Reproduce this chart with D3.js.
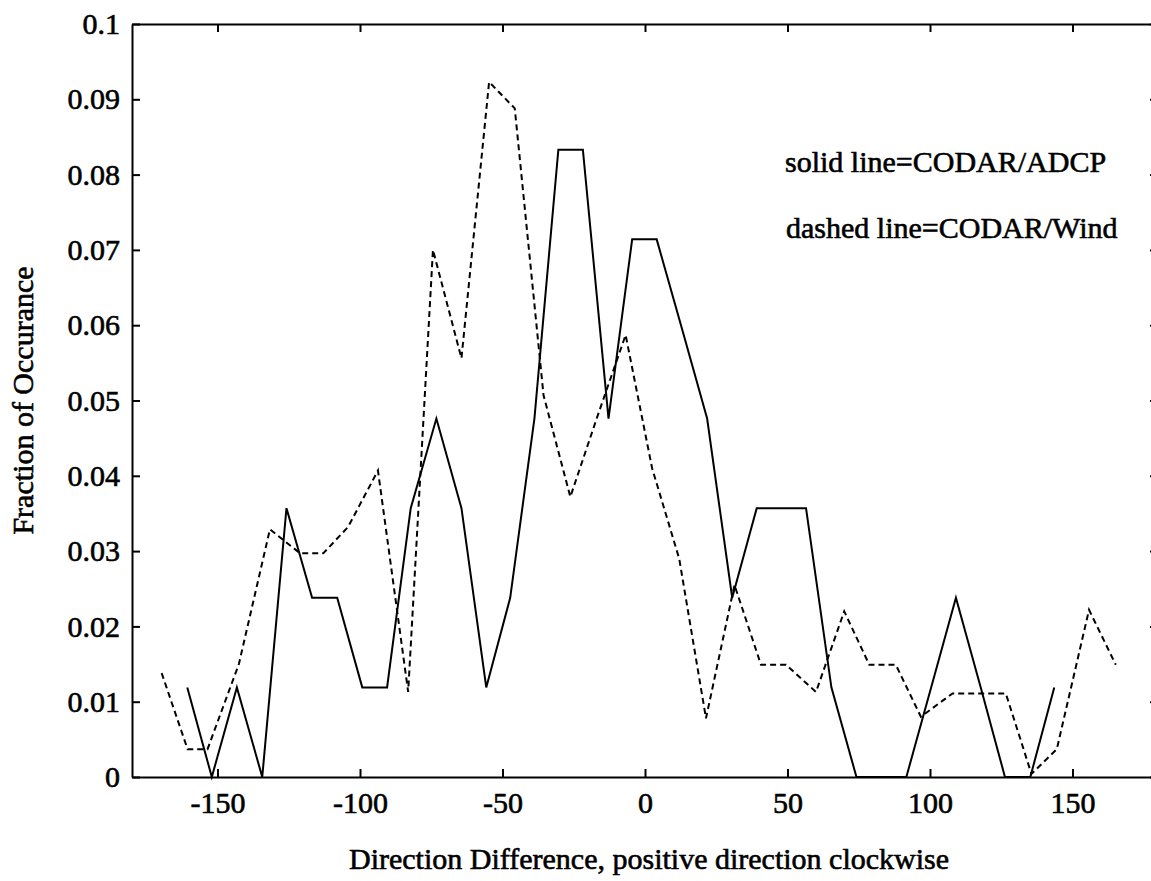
<!DOCTYPE html>
<html>
<head>
<meta charset="utf-8">
<script src="https://cdn.jsdelivr.net/npm/d3@7/dist/d3.min.js"></script>
<style>
  html, body { margin: 0; padding: 0; background: #fff; }
  svg { display: block; }
  text { font-family: "Liberation Serif", "Times New Roman", serif; fill: #000; stroke: #000; stroke-width: 0.6px; }
</style>
</head>
<body>
<svg id="chart" width="1151" height="881"></svg>
<script>
// ---- data ----
const xTickValues = [-150, -100, -50, 0, 50, 100, 150];
const yTickValues = [0, 0.01, 0.02, 0.03, 0.04, 0.05, 0.06, 0.07, 0.08, 0.09, 0.1];
const yTickLabels = ["0", "0.01", "0.02", "0.03", "0.04", "0.05", "0.06", "0.07", "0.08", "0.09", "0.1"];

// solid line = CODAR/ADCP
const solidX = [-160.6, -152, -143.2, -134.3, -125.8, -116.8, -108, -99.2, -90.5, -82.2, -73.2, -64.4, -55.7, -47.3, -38.8, -30.4, -21.8, -12.8, -4.5, 4.1, 13, 21.8, 30.6, 39.2, 48, 56.5, 65.4, 74.2, 83, 91.7, 100.4, 109.1, 117.8, 126.3, 135.2, 143.6];
const solidY = [0.0119, 0, 0.0119, 0, 0.0357, 0.0238, 0.0238, 0.0119, 0.0119, 0.0357, 0.0476, 0.0357, 0.0119, 0.0238, 0.0476, 0.0833, 0.0833, 0.0476, 0.0714, 0.0714, 0.0595, 0.0476, 0.0238, 0.0357, 0.0357, 0.0357, 0.0119, 0, 0, 0, 0.0119, 0.0238, 0.0119, 0, 0, 0.0119];

// dashed line = CODAR/Wind
const dashedX = [-169.6, -160.5, -153.5, -142.5, -131.6, -121, -112.9, -104.2, -93.7, -83.1, -74.4, -64.4, -54.7, -45.7, -35.6, -26.2, -16.6, -6.8, 2.5, 12, 21.4, 31.4, 40.7, 49.5, 60, 69.9, 78.7, 88, 96.8, 107.9, 117.2, 126.6, 135.6, 144.5, 155.8, 165.2];
const dashedY = [0.0138, 0.0037, 0.0037, 0.015, 0.0329, 0.0297, 0.0297, 0.0332, 0.0407, 0.0113, 0.0700, 0.0556, 0.0923, 0.0888, 0.0507, 0.0372, 0.048, 0.0587, 0.041, 0.029, 0.0078, 0.0255, 0.0149, 0.0149, 0.0113, 0.022, 0.0149, 0.0149, 0.008, 0.0111, 0.0111, 0.0111, 0.0004, 0.0037, 0.0222, 0.0149];

const legendLines = ["solid line=CODAR/ADCP", "dashed line=CODAR/Wind"];
const xTitle = "Direction Difference, positive direction clockwise";
const yTitle = "Fraction of Occurance";

// ---- drawing ----
const svg = d3.select("#chart");
const plotLeft = 132, plotRight = 1158, plotTop = 24, plotBottom = 777;

const x = d3.scaleLinear().domain([-180, 180]).range([plotLeft, plotRight]);
const y = d3.scaleLinear().domain([0, 0.1]).range([plotBottom, plotTop]);

const fontSize = 30;

function styleAxis(g) {
  g.select(".domain").attr("stroke", "#000").attr("stroke-width", 2);
  g.selectAll(".tick line").attr("stroke", "#000").attr("stroke-width", 2);
  g.selectAll("text").attr("font-family", "'Liberation Serif', 'Times New Roman', serif")
    .attr("font-size", fontSize).attr("fill", "#000");
}

// bottom axis
svg.append("g")
  .attr("transform", `translate(0,${plotBottom})`)
  .call(d3.axisBottom(x).tickValues(xTickValues).tickSizeInner(-8).tickSizeOuter(0).tickPadding(15)
    .tickFormat(d => d < 0 ? "-" + Math.abs(d) : String(d)))
  .call(styleAxis);

// top axis
svg.append("g")
  .attr("transform", `translate(0,${plotTop})`)
  .call(d3.axisTop(x).tickValues(xTickValues).tickSizeInner(-8).tickSizeOuter(0).tickFormat(""))
  .call(styleAxis);

// left axis
svg.append("g")
  .attr("transform", `translate(${plotLeft},0)`)
  .call(d3.axisLeft(y).tickValues(yTickValues).tickSizeInner(-8).tickSizeOuter(0).tickPadding(12)
    .tickFormat((d, i) => yTickLabels[i]))
  .call(styleAxis);

// right axis
svg.append("g")
  .attr("transform", `translate(${plotRight},0)`)
  .call(d3.axisRight(y).tickValues(yTickValues).tickSizeInner(-8).tickSizeOuter(0).tickFormat(""))
  .call(styleAxis);

// lines
const solidData = solidX.map((v, i) => [v, solidY[i]]);
const dashedData = dashedX.map((v, i) => [v, dashedY[i]]);
const line = d3.line().x(d => x(d[0])).y(d => y(d[1]));

svg.append("path")
  .datum(dashedData)
  .attr("d", line)
  .attr("fill", "none")
  .attr("stroke", "#000")
  .attr("stroke-width", 2)
  .attr("stroke-dasharray", "6,4");

svg.append("path")
  .datum(solidData)
  .attr("d", line)
  .attr("fill", "none")
  .attr("stroke", "#000")
  .attr("stroke-width", 2)
  .attr("stroke-linejoin", "miter");

// legend text
svg.append("text").attr("x", 785).attr("y", 172).attr("font-size", fontSize).text(legendLines[0]);
svg.append("text").attr("x", 786).attr("y", 238).attr("font-size", fontSize).text(legendLines[1]);

// axis titles
svg.append("text")
  .attr("x", (plotLeft + plotRight) / 2 + 4)
  .attr("y", 869)
  .attr("text-anchor", "middle")
  .attr("font-size", fontSize)
  .text(xTitle);

svg.append("text")
  .attr("transform", `translate(33,${(plotTop + plotBottom) / 2}) rotate(-90)`)
  .attr("text-anchor", "middle")
  .attr("font-size", fontSize)
  .text(yTitle);
</script>
</body>
</html>
